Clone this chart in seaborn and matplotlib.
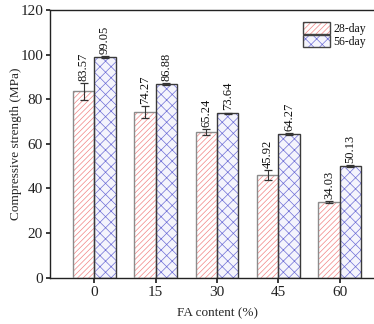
import matplotlib
matplotlib.use("Agg")
import matplotlib.pyplot as plt
from matplotlib.patches import Patch
import pandas as pd
import seaborn as sns

fa_content = ["0", "15", "30", "45", "60"]
ages = ["28-day", "56-day"]
strength_28 = [83.57, 74.27, 65.24, 45.92, 34.03]
strength_56 = [99.05, 86.88, 73.64, 64.27, 50.13]
err_28 = [3.7, 2.6, 1.3, 2.2, 0.4]
err_56 = [0.4, 0.5, 0.4, 0.4, 0.4]

hatch_colors = {"28-day": "#f28484", "56-day": "#6e6ed6"}
edge_colors = {"28-day": "#8c8c8c", "56-day": "#3a3a3a"}
hatches = {"28-day": "//////", "56-day": "xxx"}
fills = {"28-day": "white", "56-day": "#f4f4fc"}

sns.set_theme(style="ticks")
plt.rcParams.update({
    "font.family": ["Liberation Serif", "DejaVu Serif"],
    "font.size": 9,
    "hatch.linewidth": 0.5,
    "axes.linewidth": 1.0,
    "axes.edgecolor": "#222222",
    "xtick.major.size": 3.5,
    "ytick.major.size": 3,
    "xtick.major.pad": 2.5,
    "ytick.major.pad": 2,
    "text.color": "#111111",
    "xtick.color": "#222222",
    "ytick.color": "#222222",
})

df = pd.DataFrame({
    "FA": fa_content * 2,
    "age": [ages[0]] * 5 + [ages[1]] * 5,
    "strength": strength_28 + strength_56,
})

fig = plt.figure(figsize=(3.74, 3.24), dpi=100)
ax = fig.add_axes([50 / 374, 46.3 / 324, 334 / 374, 267.7 / 324])

sns.barplot(data=df, x="FA", y="strength", hue="age", order=fa_content,
            hue_order=ages, width=0.7, errorbar=None, legend=False, ax=ax,
            palette=fills, saturation=1)

errors = {"28-day": err_28, "56-day": err_56}
values = {"28-day": strength_28, "56-day": strength_56}
for age, container in zip(ages, ax.containers):
    centers = []
    for bar in container.patches:
        bar.set_facecolor(fills[age])
        bar.set_edgecolor(hatch_colors[age])
        bar.set_hatch(hatches[age])
        bar.set_linewidth(0)
        ax.bar(bar.get_x(), bar.get_height(), width=bar.get_width(), align="edge",
               fill=False, edgecolor=edge_colors[age], linewidth=1.0, zorder=3)
        centers.append(bar.get_x() + bar.get_width() / 2)
    ax.errorbar(centers, values[age], yerr=errors[age], fmt="none",
                ecolor="#333333", elinewidth=0.8, capsize=3, capthick=0.9, zorder=4)
    for cx, v, e in zip(centers, values[age], errors[age]):
        ax.annotate(f"{v:.2f}", xy=(cx, v + e), xytext=(0, 1.5),
                    textcoords="offset points", rotation=90,
                    ha="center", va="bottom", fontsize=9)

ax.set_xlim(-0.722, 4.722)
ax.set_ylim(0, 120)
ax.set_yticks(range(0, 121, 20))
ax.set_xlabel("FA content (%)", fontsize=9.5, labelpad=6)
ax.set_ylabel("Compressive strength (MPa)", fontsize=9.5, labelpad=-1)
for side in ["top", "right", "left", "bottom"]:
    ax.spines[side].set_visible(True)

handles = [
    (Patch(facecolor=fills[a], edgecolor=hatch_colors[a], hatch=hatches[a], linewidth=0),
     Patch(fill=False, edgecolor="#444444", linewidth=1.0))
    for a in ages
]
ax.legend(handles, ages, loc="upper left", bbox_to_anchor=(303 / 374, 1 - 22 / 324),
          bbox_transform=fig.transFigure, frameon=False, borderpad=0,
          borderaxespad=0, labelspacing=0, handlelength=2.3, handleheight=1.2,
          handletextpad=0.25, fontsize=8.5)

fig.savefig("out.png", dpi=100)
